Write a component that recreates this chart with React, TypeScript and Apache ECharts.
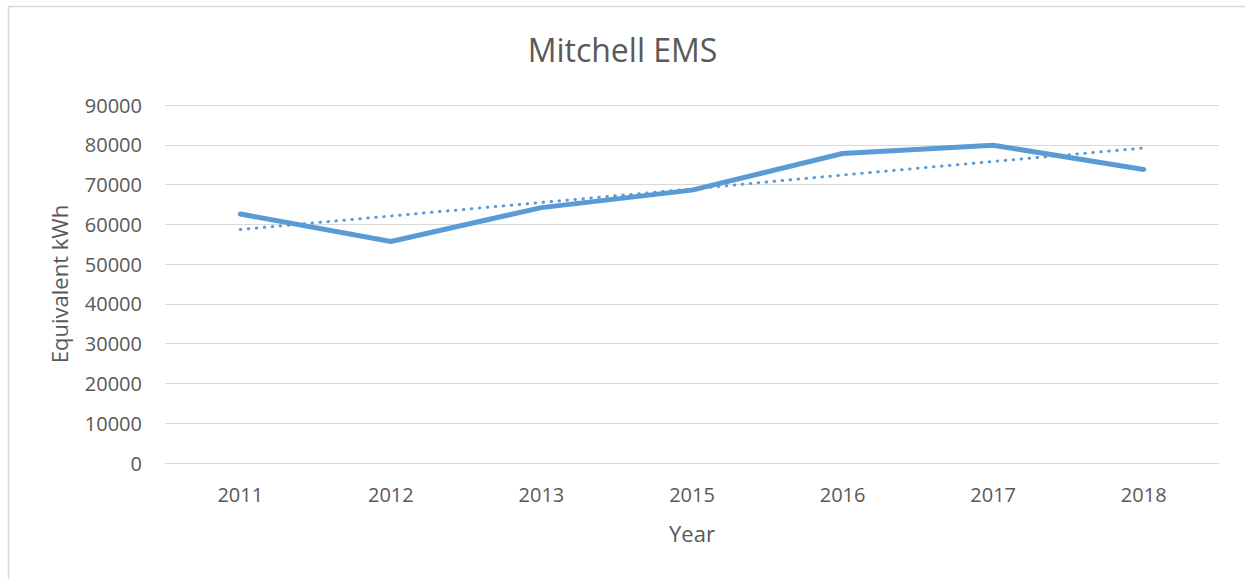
import React, { useEffect, useRef } from "react";
import * as echarts from "echarts";

const years = ["2011", "2012", "2013", "2015", "2016", "2017", "2018"];
const kwh = [62600, 55700, 64200, 68600, 77800, 79900, 73800];
const trend = [58700, 62100, 65500, 68900, 72400, 75800, 79200];

const FONT = "'Open Sans', 'Noto Sans', sans-serif";
const TXT = "#595959";
const BLUE = "#5B9BD5";

export default function App() {
  const ref = useRef<HTMLDivElement>(null);
  useEffect(() => {
    if (!ref.current) return;
    const chart = echarts.init(ref.current, undefined, { renderer: "svg" });
    chart.setOption({
      animation: false,
      backgroundColor: "#ffffff",
      title: {
        text: "Mitchell EMS",
        left: "center",
        top: 28,
        textStyle: { fontFamily: FONT, fontSize: 32, fontWeight: "normal", color: TXT },
      },
      graphic: [
        {
          type: "rect",
          shape: { x: 8.5, y: 6.5, width: 1260, height: 620 },
          style: { fill: "none", stroke: "#d9d9d9", lineWidth: 1.5 },
          silent: true,
        },
      ],
      grid: { left: 165, right: 26, top: 105, bottom: 116, containLabel: false },
      xAxis: {
        type: "category",
        data: years,
        boundaryGap: true,
        name: "Year",
        nameLocation: "middle",
        nameGap: 59,
        nameTextStyle: { fontFamily: FONT, fontSize: 22, color: TXT },
        axisLine: { show: true, lineStyle: { color: "#d9d9d9", width: 1 } },
        axisTick: { show: false },
        axisLabel: { fontFamily: FONT, fontSize: 20, color: TXT, margin: 21 },
      },
      yAxis: {
        type: "value",
        min: 0,
        max: 90000,
        interval: 10000,
        name: "Equivalent kWh",
        nameLocation: "middle",
        nameGap: 95,
        nameRotate: 90,
        nameTextStyle: { fontFamily: FONT, fontSize: 22, color: TXT },
        axisLine: { show: false },
        axisTick: { show: false },
        axisLabel: {
          fontFamily: FONT,
          fontSize: 20,
          color: TXT,
          margin: 23,
          formatter: (v: number) => String(v),
        },
        splitLine: { show: true, lineStyle: { color: "#d9d9d9", width: 1 } },
      },
      series: [
        {
          type: "line",
          data: trend,
          symbol: "none",
          silent: true,
          lineStyle: { color: BLUE, width: 3, type: [0.5, 7.5], cap: "round" },
        },
        {
          type: "line",
          data: kwh,
          symbol: "none",
          lineStyle: { color: BLUE, width: 5, cap: "round", join: "round" },
        },
      ],
    });
    return () => chart.dispose();
  }, []);
  return (
    <div
      ref={ref}
      style={{ position: "fixed", left: 0, top: 0, width: 1245, height: 579 }}
    />
  );
}
